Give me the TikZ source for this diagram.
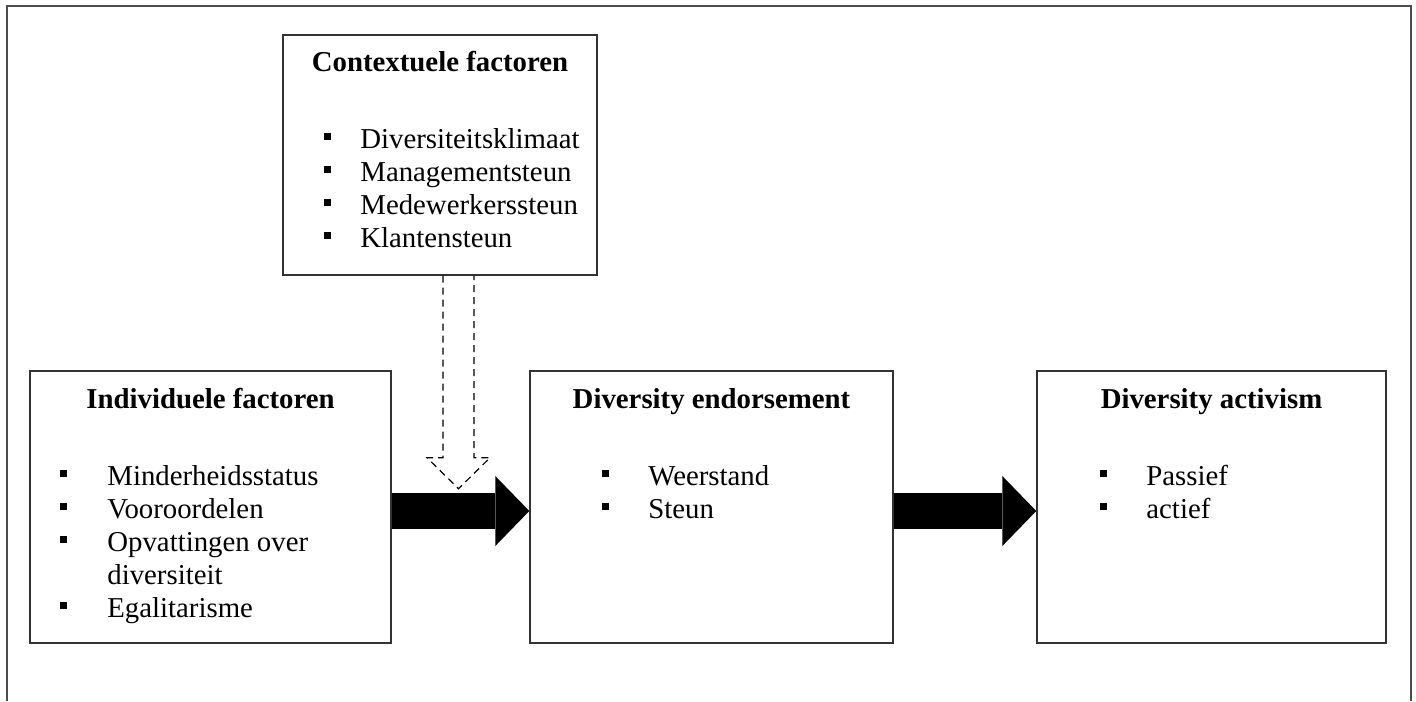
\documentclass[tikz,border=0pt]{standalone}
\usepackage{fontspec}
\setmainfont{Liberation Serif}
\usetikzlibrary{arrows.meta,positioning,calc}
\newcommand{\sqbul}{\rule[4.25pt]{3.5pt}{3.5pt}}

\begin{document}
\begin{tikzpicture}[
  x=0.5pt,y=-0.5pt,
  font=\fontsize{14.4pt}{16.5pt}\selectfont,
  box/.style={draw=black!80,line width=0.7pt,inner sep=0pt,minimum height=136pt},
  title/.style={anchor=base,inner sep=0pt,font=\fontsize{14.4pt}{16.5pt}\selectfont\bfseries},
  items/.style={anchor=north west,inner sep=0pt,align=left},
  fat/.style={line width=18pt,-{Triangle[width=35pt,length=17pt,line width=0pt]}},
  hollow/.style={draw=black,line width=0.6pt,dash pattern=on 3.5pt off 2.5pt}
]
  \useasboundingbox (0,0) rectangle (1416,701);
  % outer frame (open at the bottom)
  \draw[black!70,line width=1pt] (7,701) |- (1411,6) -- (1411,701);
  % boxes
  \node[box,minimum width=157pt,minimum height=120pt] (ctx) at (440,155) {};
  \node[box,minimum width=180.5pt] (ind) at (210.5,507) {};
  \node[box,minimum width=181.5pt] (end) at (711.5,507) {};
  \node[box,minimum width=174.5pt] (act) at (1211.5,507) {};
  % titles
  \node[title] (ctxt) at (440,72)    {Contextuele factoren};
  \node[title] (indt) at (210.5,408) {Individuele factoren};
  \node[title] (endt) at (711.5,408) {Diversity endorsement};
  \node[title] (actt) at (1211.5,408) {Diversity activism};
  % lists
  \node[items] (ctxl) at (323.5,125) {%
    \makebox[18.25pt][l]{\sqbul}Diversiteitsklimaat\strut\\
    \makebox[18.25pt][l]{\sqbul}Managementsteun\strut\\
    \makebox[18.25pt][l]{\sqbul}Medewerkerssteun\strut\\
    \makebox[18.25pt][l]{\sqbul}Klantensteun\strut};
  \node[items] (indl) at (59.5,462) {%
    \makebox[23.75pt][l]{\sqbul}Minderheidsstatus\strut\\
    \makebox[23.75pt][l]{\sqbul}Vooroordelen\strut\\
    \makebox[23.75pt][l]{\sqbul}Opvattingen over\strut\\
    \makebox[23.75pt][l]{}diversiteit\strut\\
    \makebox[23.75pt][l]{\sqbul}Egalitarisme\strut};
  \node[items] (endl) at (601.5,462) {%
    \makebox[23.25pt][l]{\sqbul}Weerstand\strut\\
    \makebox[23.25pt][l]{\sqbul}Steun\strut};
  \node[items] (actl) at (1099.5,462) {%
    \makebox[23.25pt][l]{\sqbul}Passief\strut\\
    \makebox[23.25pt][l]{\sqbul}actief\strut};
  % arrows
  \coordinate (ay) at (0,511);
  \draw[fat] (ind.east |- ay) -- (end.west |- ay);
  \draw[fat] (end.east |- ay) -- (act.west |- ay);
  \begin{scope}[shift={(ctx.south)}]
    \draw[hollow] (3,0) -- (3,182) -- (-13,182) -- (18.5,213)
      -- (50,182) -- (34,182) -- (34,0);
  \end{scope}
\end{tikzpicture}
\end{document}
